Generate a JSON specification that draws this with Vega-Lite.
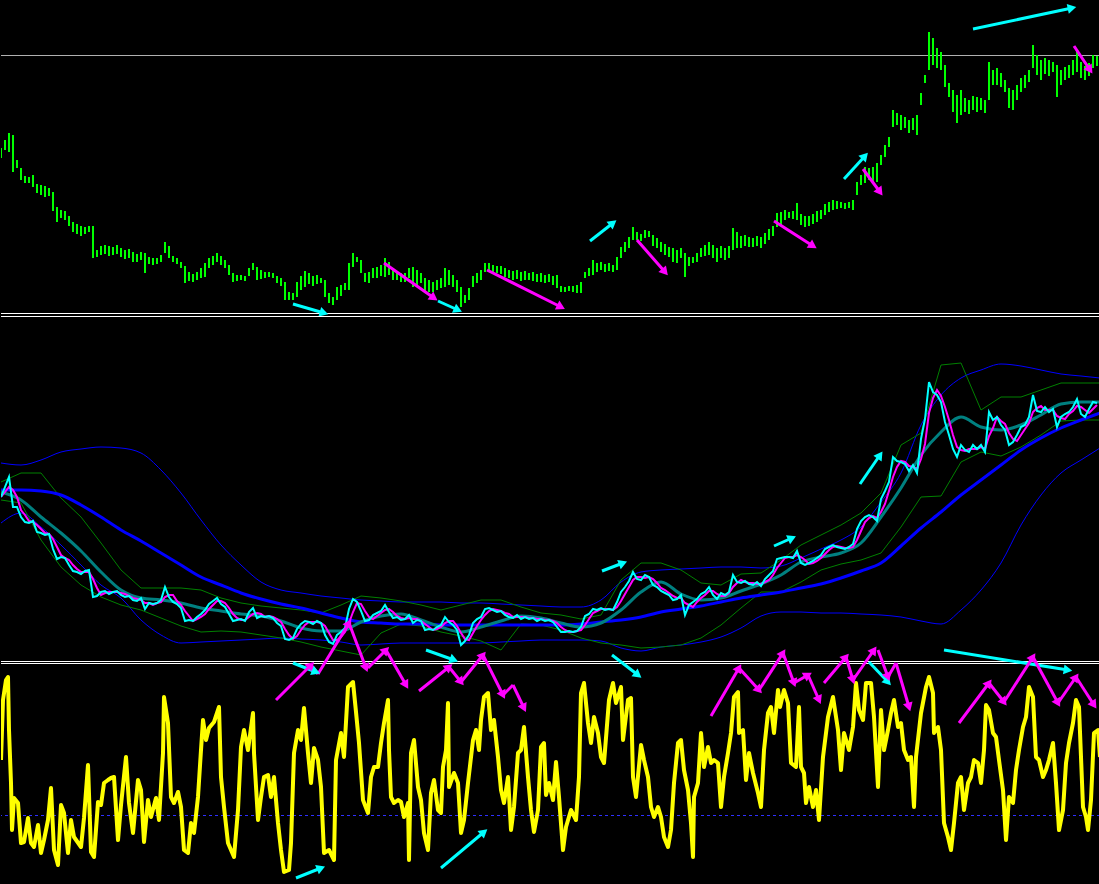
{
"$schema":"https://vega.github.io/schema/vega-lite/v6.json",
"background":"black","padding":0,"spacing":0,"bounds":"flush",
"config":{"view":{"stroke":null},"concat":{"spacing":0}},
"datasets":{
"one":[{"k":1}],
"bars":[
{"t":0,"h":167,"l":157,"c":160,"m":160},{"t":2,"h":175,"l":165,"c":170,"m":165},{"t":4,"h":182,"l":163,"c":180,"m":170},{"t":6,"h":180,"l":143,"c":150,"m":167},{"t":8,"h":155,"l":147,"c":150,"m":160},{"t":10,"h":147,"l":135,"c":140,"m":147},{"t":12,"h":139,"l":132,"c":135,"m":142},{"t":14,"h":138,"l":132,"c":134,"m":136},{"t":16,"h":140,"l":128,"c":136,"m":135},{"t":18,"h":131,"l":122,"c":125,"m":132},
{"t":20,"h":130,"l":120,"c":124,"m":128},{"t":22,"h":129,"l":118,"c":122,"m":124},{"t":24,"h":127,"l":119,"c":123,"m":123},{"t":26,"h":123,"l":104,"c":108,"m":118},{"t":28,"h":108,"l":93,"c":98,"m":110},{"t":30,"h":105,"l":97,"c":100,"m":102},{"t":32,"h":104,"l":95,"c":99,"m":99},{"t":34,"h":99,"l":89,"c":92,"m":97},{"t":36,"h":93,"l":83,"c":86,"m":92},{"t":38,"h":91,"l":81,"c":85,"m":88},
{"t":40,"h":89,"l":79,"c":83,"m":85},{"t":42,"h":88,"l":81,"c":86,"m":85},{"t":44,"h":89,"l":83,"c":87,"m":85},{"t":46,"h":89,"l":57,"c":60,"m":78},{"t":48,"h":65,"l":58,"c":61,"m":69},{"t":50,"h":69,"l":60,"c":65,"m":62},{"t":52,"h":70,"l":61,"c":66,"m":64},{"t":54,"h":69,"l":59,"c":63,"m":65},{"t":56,"h":68,"l":60,"c":65,"m":65},{"t":58,"h":70,"l":61,"c":66,"m":65},
{"t":60,"h":67,"l":58,"c":62,"m":64},{"t":62,"h":65,"l":56,"c":60,"m":63},{"t":64,"h":66,"l":57,"c":61,"m":61},{"t":66,"h":63,"l":53,"c":57,"m":59},{"t":68,"h":61,"l":53,"c":56,"m":58},{"t":70,"h":63,"l":55,"c":59,"m":57},{"t":72,"h":62,"l":42,"c":48,"m":54},{"t":74,"h":58,"l":51,"c":54,"m":54},{"t":76,"h":57,"l":50,"c":53,"m":52},{"t":78,"h":57,"l":51,"c":54,"m":54},
{"t":80,"h":60,"l":53,"c":57,"m":55},{"t":82,"h":73,"l":62,"c":70,"m":60},{"t":84,"h":69,"l":57,"c":60,"m":62},{"t":86,"h":59,"l":53,"c":55,"m":62},{"t":88,"h":57,"l":51,"c":53,"m":56},{"t":90,"h":53,"l":47,"c":49,"m":52},{"t":92,"h":49,"l":32,"c":36,"m":46},{"t":94,"h":43,"l":34,"c":37,"m":41},{"t":96,"h":41,"l":33,"c":36,"m":36},{"t":98,"h":43,"l":35,"c":40,"m":38},
{"t":100,"h":47,"l":37,"c":43,"m":40},{"t":102,"h":52,"l":38,"c":47,"m":43},{"t":104,"h":57,"l":47,"c":53,"m":48},{"t":106,"h":59,"l":50,"c":56,"m":52},{"t":108,"h":62,"l":53,"c":59,"m":56},{"t":110,"h":59,"l":50,"c":53,"m":56},{"t":112,"h":55,"l":47,"c":50,"m":54},{"t":114,"h":50,"l":40,"c":43,"m":49},{"t":116,"h":42,"l":33,"c":36,"m":43},{"t":118,"h":40,"l":34,"c":37,"m":39},
{"t":120,"h":40,"l":35,"c":38,"m":37},{"t":122,"h":39,"l":34,"c":36,"m":37},{"t":124,"h":47,"l":39,"c":45,"m":40},{"t":126,"h":52,"l":45,"c":49,"m":43},{"t":128,"h":48,"l":35,"c":39,"m":44},{"t":130,"h":45,"l":36,"c":41,"m":43},{"t":132,"h":43,"l":37,"c":40,"m":40},{"t":134,"h":43,"l":38,"c":41,"m":41},{"t":136,"h":42,"l":37,"c":39,"m":40},{"t":138,"h":39,"l":32,"c":34,"m":38},
{"t":140,"h":37,"l":29,"c":31,"m":35},{"t":142,"h":33,"l":15,"c":18,"m":28},{"t":144,"h":23,"l":15,"c":17,"m":22},{"t":146,"h":22,"l":15,"c":19,"m":18},{"t":148,"h":33,"l":18,"c":28,"m":21},{"t":150,"h":39,"l":25,"c":33,"m":27},{"t":152,"h":44,"l":28,"c":36,"m":32},{"t":154,"h":42,"l":31,"c":35,"m":35},{"t":156,"h":39,"l":29,"c":33,"m":35},{"t":158,"h":40,"l":31,"c":36,"m":35},
{"t":160,"h":37,"l":32,"c":34,"m":34},{"t":162,"h":35,"l":18,"c":22,"m":31},{"t":164,"h":22,"l":12,"c":15,"m":24},{"t":166,"h":18,"l":10,"c":13,"m":17},{"t":168,"h":28,"l":15,"c":22,"m":17},{"t":170,"h":30,"l":19,"c":25,"m":20},{"t":172,"h":32,"l":25,"c":29,"m":25},{"t":174,"h":52,"l":25,"c":48,"m":34},{"t":176,"h":62,"l":48,"c":58,"m":45},{"t":178,"h":58,"l":53,"c":55,"m":54},
{"t":180,"h":55,"l":42,"c":46,"m":53},{"t":182,"h":42,"l":33,"c":36,"m":46},{"t":184,"h":43,"l":32,"c":37,"m":40},{"t":186,"h":47,"l":37,"c":42,"m":38},{"t":188,"h":48,"l":37,"c":44,"m":41},{"t":190,"h":50,"l":39,"c":46,"m":44},{"t":192,"h":57,"l":38,"c":52,"m":47},{"t":194,"h":53,"l":40,"c":45,"m":48},{"t":196,"h":45,"l":35,"c":39,"m":45},{"t":198,"h":44,"l":35,"c":40,"m":41},
{"t":200,"h":42,"l":33,"c":37,"m":39},{"t":202,"h":42,"l":33,"c":38,"m":38},{"t":204,"h":47,"l":37,"c":42,"m":39},{"t":206,"h":48,"l":28,"c":34,"m":38},{"t":208,"h":45,"l":30,"c":37,"m":38},{"t":210,"h":42,"l":32,"c":36,"m":36},{"t":212,"h":37,"l":22,"c":27,"m":33},{"t":214,"h":35,"l":23,"c":28,"m":30},{"t":216,"h":33,"l":23,"c":27,"m":27},{"t":218,"h":35,"l":25,"c":30,"m":28},
{"t":220,"h":37,"l":27,"c":32,"m":30},{"t":222,"h":47,"l":28,"c":40,"m":34},{"t":224,"h":45,"l":30,"c":35,"m":36},{"t":226,"h":40,"l":28,"c":32,"m":36},{"t":228,"h":35,"l":23,"c":27,"m":31},{"t":230,"h":28,"l":8,"c":12,"m":24},{"t":232,"h":20,"l":12,"c":16,"m":18},{"t":234,"h":27,"l":15,"c":22,"m":17},{"t":236,"h":39,"l":28,"c":34,"m":24},{"t":238,"h":42,"l":32,"c":38,"m":31},
{"t":240,"h":45,"l":35,"c":40,"m":37},{"t":242,"h":52,"l":43,"c":48,"m":42},{"t":244,"h":52,"l":45,"c":49,"m":46},{"t":246,"h":50,"l":43,"c":47,"m":48},{"t":248,"h":49,"l":42,"c":45,"m":47},{"t":250,"h":49,"l":41,"c":46,"m":46},{"t":252,"h":47,"l":38,"c":42,"m":44},{"t":254,"h":45,"l":37,"c":40,"m":43},{"t":256,"h":44,"l":35,"c":39,"m":40},{"t":258,"h":45,"l":36,"c":42,"m":40},
{"t":260,"h":43,"l":34,"c":38,"m":40},{"t":262,"h":44,"l":35,"c":40,"m":40},{"t":264,"h":42,"l":35,"c":38,"m":39},{"t":266,"h":43,"l":34,"c":39,"m":39},{"t":268,"h":41,"l":33,"c":36,"m":38},{"t":270,"h":42,"l":33,"c":38,"m":38},{"t":272,"h":40,"l":32,"c":36,"m":37},{"t":274,"h":41,"l":33,"c":37,"m":37},{"t":276,"h":39,"l":30,"c":35,"m":36},{"t":278,"h":40,"l":27,"c":30,"m":34},
{"t":280,"h":29,"l":23,"c":25,"m":30},{"t":282,"h":28,"l":23,"c":25,"m":27},{"t":284,"h":29,"l":24,"c":26,"m":25},{"t":286,"h":29,"l":23,"c":25,"m":25},{"t":288,"h":30,"l":22,"c":26,"m":26},{"t":290,"h":33,"l":22,"c":30,"m":27},{"t":292,"h":43,"l":37,"c":41,"m":32},{"t":294,"h":47,"l":39,"c":43,"m":38},{"t":296,"h":55,"l":40,"c":48,"m":44},{"t":298,"h":52,"l":43,"c":47,"m":46},
{"t":300,"h":53,"l":45,"c":49,"m":48},{"t":302,"h":51,"l":43,"c":47,"m":48},{"t":304,"h":52,"l":44,"c":48,"m":48},{"t":306,"h":50,"l":43,"c":47,"m":47},{"t":308,"h":58,"l":45,"c":55,"m":50},{"t":310,"h":68,"l":57,"c":65,"m":56},{"t":312,"h":73,"l":63,"c":70,"m":63},{"t":314,"h":78,"l":67,"c":76,"m":70},{"t":316,"h":88,"l":75,"c":85,"m":77},{"t":318,"h":83,"l":75,"c":78,"m":80},
{"t":320,"h":81,"l":74,"c":77,"m":80},{"t":322,"h":85,"l":77,"c":82,"m":79},{"t":324,"h":84,"l":78,"c":80,"m":80},{"t":326,"h":80,"l":69,"c":72,"m":78},{"t":328,"h":77,"l":67,"c":70,"m":74},{"t":330,"h":73,"l":63,"c":66,"m":69},{"t":332,"h":71,"l":60,"c":64,"m":67},{"t":334,"h":68,"l":58,"c":62,"m":64},{"t":336,"h":67,"l":53,"c":57,"m":61},{"t":338,"h":65,"l":52,"c":58,"m":59},
{"t":340,"h":67,"l":57,"c":62,"m":59},{"t":342,"h":62,"l":38,"c":42,"m":54},{"t":344,"h":58,"l":49,"c":52,"m":52},{"t":346,"h":58,"l":52,"c":55,"m":50},{"t":348,"h":62,"l":53,"c":58,"m":55},{"t":350,"h":67,"l":58,"c":63,"m":59},{"t":352,"h":70,"l":59,"c":65,"m":62},{"t":354,"h":73,"l":60,"c":70,"m":66},{"t":356,"h":70,"l":57,"c":62,"m":66},{"t":358,"h":67,"l":53,"c":58,"m":63},
{"t":360,"h":69,"l":57,"c":64,"m":61},{"t":362,"h":67,"l":55,"c":62,"m":61},{"t":364,"h":69,"l":57,"c":65,"m":64},{"t":366,"h":87,"l":65,"c":82,"m":70},{"t":368,"h":83,"l":67,"c":75,"m":74},{"t":370,"h":79,"l":67,"c":74,"m":77},{"t":372,"h":80,"l":69,"c":76,"m":75},{"t":374,"h":78,"l":68,"c":73,"m":74},{"t":376,"h":77,"l":68,"c":72,"m":74},{"t":378,"h":79,"l":69,"c":75,"m":73},
{"t":380,"h":78,"l":67,"c":71,"m":73},{"t":382,"h":82,"l":71,"c":78,"m":75},{"t":384,"h":86,"l":75,"c":82,"m":77},{"t":386,"h":89,"l":79,"c":86,"m":82},{"t":388,"h":102,"l":88,"c":98,"m":89},{"t":390,"h":103,"l":90,"c":99,"m":94},{"t":392,"h":105,"l":95,"c":100,"m":99},{"t":394,"h":103,"l":97,"c":100,"m":100},{"t":396,"h":104,"l":96,"c":99,"m":100},{"t":398,"h":112,"l":95,"c":106,"m":102},
{"t":400,"h":101,"l":90,"c":94,"m":100},{"t":402,"h":99,"l":88,"c":92,"m":97},{"t":404,"h":99,"l":89,"c":94,"m":93},{"t":406,"h":101,"l":91,"c":96,"m":94},{"t":408,"h":104,"l":93,"c":99,"m":96},{"t":410,"h":105,"l":96,"c":102,"m":99},{"t":412,"h":111,"l":100,"c":108,"m":103},{"t":414,"h":113,"l":103,"c":110,"m":107},{"t":416,"h":115,"l":105,"c":112,"m":110},{"t":418,"h":114,"l":106,"c":110,"m":111},
{"t":420,"h":113,"l":107,"c":109,"m":110},{"t":422,"h":112,"l":106,"c":108,"m":109},{"t":424,"h":113,"l":107,"c":110,"m":109},{"t":426,"h":115,"l":105,"c":113,"m":110},{"t":428,"h":133,"l":120,"c":128,"m":117},{"t":430,"h":140,"l":130,"c":136,"m":126},{"t":432,"h":148,"l":132,"c":140,"m":135},{"t":434,"h":147,"l":135,"c":142,"m":139},{"t":436,"h":148,"l":134,"c":140,"m":141},{"t":438,"h":152,"l":133,"c":136,"m":139},
{"t":440,"h":160,"l":150,"c":158,"m":145},{"t":442,"h":170,"l":158,"c":166,"m":153},{"t":444,"h":178,"l":168,"c":175,"m":166},{"t":446,"h":205,"l":188,"c":200,"m":180},{"t":448,"h":202,"l":190,"c":196,"m":190},{"t":450,"h":200,"l":185,"c":195,"m":196},{"t":452,"h":198,"l":187,"c":193,"m":195},{"t":454,"h":195,"l":182,"c":186,"m":191},{"t":456,"h":197,"l":185,"c":192,"m":190},{"t":458,"h":200,"l":180,"c":184,"m":188},
{"t":460,"h":222,"l":210,"c":218,"m":198},{"t":462,"h":240,"l":232,"c":238,"m":213},{"t":464,"h":283,"l":245,"c":275,"m":244},{"t":466,"h":277,"l":250,"c":265,"m":259},{"t":468,"h":267,"l":247,"c":262,"m":267},{"t":470,"h":263,"l":245,"c":255,"m":261},{"t":472,"h":250,"l":228,"c":235,"m":250},{"t":474,"h":232,"l":218,"c":222,"m":237},{"t":476,"h":225,"l":203,"c":208,"m":222},{"t":478,"h":220,"l":192,"c":200,"m":210},
{"t":480,"h":225,"l":200,"c":212,"m":207},{"t":482,"h":217,"l":203,"c":207,"m":206},{"t":484,"h":215,"l":201,"c":205,"m":208},{"t":486,"h":219,"l":205,"c":212,"m":208},{"t":488,"h":218,"l":203,"c":208,"m":208},{"t":490,"h":217,"l":205,"c":212,"m":210},{"t":492,"h":215,"l":202,"c":205,"m":208},{"t":494,"h":253,"l":215,"c":245,"m":221},{"t":496,"h":245,"l":230,"c":237,"m":229},{"t":498,"h":247,"l":230,"c":240,"m":240},
{"t":500,"h":242,"l":228,"c":232,"m":236},{"t":502,"h":235,"l":223,"c":227,"m":233},{"t":504,"h":227,"l":207,"c":212,"m":224},{"t":506,"h":225,"l":205,"c":215,"m":218},{"t":508,"h":230,"l":215,"c":222,"m":216},{"t":510,"h":237,"l":223,"c":230,"m":222},{"t":512,"h":240,"l":227,"c":232,"m":228},{"t":514,"h":245,"l":233,"c":240,"m":234},{"t":516,"h":270,"l":247,"c":262,"m":245},{"t":518,"h":260,"l":240,"c":246,"m":249},
{"t":520,"h":255,"l":235,"c":245,"m":251},{"t":522,"h":257,"l":241,"c":250,"m":247},{"t":524,"h":255,"l":239,"c":245,"m":247},{"t":526,"h":253,"l":243,"c":248,"m":247},{"t":528,"h":250,"l":218,"c":230,"m":241},{"t":530,"h":245,"l":230,"c":240,"m":239},{"t":532,"h":248,"l":235,"c":243,"m":238},{"t":534,"h":250,"l":237,"c":245,"m":243},{"t":536,"h":255,"l":240,"c":250,"m":246},{"t":538,"h":265,"l":243,"c":258,"m":251},
{"t":540,"h":253,"l":237,"c":243,"m":250},{"t":542,"h":249,"l":235,"c":240,"m":247},{"t":544,"h":252,"l":239,"c":248,"m":244},{"t":546,"h":260,"l":247,"c":255,"m":248},{"t":548,"h":259,"l":249,"c":254,"m":252}
],
"ind":[
{"t":0,"ma":167,"teal":165,"bu":194,"bl":134,"gu":175,"gl":157},{"t":10,"ma":167,"teal":157,"bu":192,"bl":144,"gu":184,"gl":154},{"t":20,"ma":166,"teal":140,"bu":197,"bl":130,"gu":184,"gl":117},{"t":30,"ma":162,"teal":124,"bu":205,"bl":112,"gu":159,"gl":90},{"t":40,"ma":152,"teal":106,"bu":208,"bl":92,"gu":140,"gl":72},{"t":50,"ma":140,"teal":85,"bu":210,"bl":72,"gu":114,"gl":60},{"t":60,"ma":127,"teal":67,"bu":209,"bl":59,"gu":87,"gl":52},{"t":70,"ma":116,"teal":59,"bu":204,"bl":37,"gu":69,"gl":47},{"t":80,"ma":104,"teal":57,"bu":187,"bl":22,"gu":69,"gl":39},{"t":90,"ma":92,"teal":54,"bu":164,"bl":14,"gu":69,"gl":31},
{"t":100,"ma":80,"teal":49,"bu":137,"bl":15,"gu":67,"gl":25},{"t":110,"ma":72,"teal":46,"bu":112,"bl":16,"gu":59,"gl":26},{"t":120,"ma":64,"teal":43,"bu":92,"bl":17,"gu":54,"gl":25},{"t":130,"ma":58,"teal":41,"bu":75,"bl":18,"gu":51,"gl":22},{"t":140,"ma":53,"teal":36,"bu":67,"bl":19,"gu":49,"gl":19},{"t":150,"ma":49,"teal":29,"bu":64,"bl":18,"gu":47,"gl":15},{"t":160,"ma":44,"teal":26,"bu":61,"bl":17,"gu":44,"gl":10},{"t":170,"ma":39,"teal":26,"bu":59,"bl":15,"gu":52,"gl":6},{"t":180,"ma":35,"teal":35,"bu":57,"bl":12,"gu":61,"gl":2},{"t":190,"ma":34,"teal":41,"bu":56,"bl":13,"gu":59,"gl":24},
{"t":200,"ma":33,"teal":43,"bu":55,"bl":14,"gu":56,"gl":33},{"t":210,"ma":33,"teal":37,"bu":55,"bl":14,"gu":52,"gl":31},{"t":220,"ma":32,"teal":30,"bu":55,"bl":14,"gu":47,"gl":25},{"t":230,"ma":32,"teal":25,"bu":54,"bl":14,"gu":52,"gl":21},{"t":240,"ma":32,"teal":30,"bu":54,"bl":14,"gu":57,"gl":16},{"t":250,"ma":32,"teal":36,"bu":53,"bl":15,"gu":57,"gl":7},{"t":260,"ma":32,"teal":41,"bu":52,"bl":16,"gu":50,"gl":33},{"t":270,"ma":32,"teal":39,"bu":51,"bl":17,"gu":44,"gl":32},{"t":280,"ma":32,"teal":34,"bu":50,"bl":17,"gu":42,"gl":27},{"t":290,"ma":33,"teal":30,"bu":50,"bl":17,"gu":38,"gl":19},
{"t":300,"ma":35,"teal":34,"bu":57,"bl":16,"gu":42,"gl":14},{"t":310,"ma":37,"teal":47,"bu":75,"bl":9,"gu":77,"gl":12},{"t":320,"ma":40,"teal":65,"bu":85,"bl":6,"gu":94,"gl":9},{"t":330,"ma":45,"teal":75,"bu":87,"bl":10,"gu":94,"gl":10},{"t":340,"ma":48,"teal":63,"bu":88,"bl":12,"gu":87,"gl":12},{"t":350,"ma":51,"teal":57,"bu":89,"bl":15,"gu":74,"gl":19},{"t":360,"ma":55,"teal":59,"bu":90,"bl":20,"gu":72,"gl":32},{"t":370,"ma":59,"teal":66,"bu":90,"bl":29,"gu":83,"gl":49},{"t":380,"ma":62,"teal":73,"bu":89,"bl":41,"gu":84,"gl":65},{"t":390,"ma":65,"teal":82,"bu":91,"bl":45,"gu":97,"gl":65},
{"t":400,"ma":69,"teal":95,"bu":99,"bl":45,"gu":112,"gl":75},{"t":410,"ma":73,"teal":100,"bu":108,"bl":44,"gu":122,"gl":87},{"t":420,"ma":79,"teal":104,"bu":117,"bl":44,"gu":132,"gl":93},{"t":430,"ma":86,"teal":114,"bu":130,"bl":43,"gu":144,"gl":97},{"t":440,"ma":94,"teal":140,"bu":155,"bl":42,"gu":164,"gl":104},{"t":450,"ma":111,"teal":169,"bu":184,"bl":40,"gu":212,"gl":130},{"t":460,"ma":129,"teal":202,"bu":232,"bl":36,"gu":224,"gl":160},{"t":470,"ma":145,"teal":225,"bu":262,"bl":33,"gu":292,"gl":161},{"t":480,"ma":162,"teal":240,"bu":279,"bl":47,"gu":294,"gl":195},{"t":490,"ma":177,"teal":230,"bu":287,"bl":67,"gu":247,"gl":205},
{"t":500,"ma":192,"teal":227,"bu":293,"bl":94,"gu":260,"gl":201},{"t":510,"ma":207,"teal":232,"bu":291,"bl":132,"gu":260,"gl":210},{"t":520,"ma":219,"teal":242,"bu":287,"bl":162,"gu":267,"gl":222},{"t":530,"ma":229,"teal":253,"bu":283,"bl":184,"gu":274,"gl":236},{"t":540,"ma":237,"teal":255,"bu":281,"bl":197,"gu":274,"gl":237},{"t":549.5,"ma":244,"teal":255,"bu":279,"bl":209,"gu":274,"gl":237}
],
"osc":[
{"t":0,"v":124},{"t":1,"v":184},{"t":2.5,"v":204},{"t":3.5,"v":207},{"t":4,"v":154},{"t":5,"v":101},{"t":5.5,"v":54},{"t":6.5,"v":86},{"t":8.5,"v":81},{"t":10,"v":41},{"t":11.5,"v":42},{"t":13.5,"v":66},{"t":15,"v":41},{"t":16.5,"v":37},{"t":18.5,"v":59},{"t":20,"v":31},{"t":21.5,"v":44},{"t":23.5,"v":64},{"t":25,"v":96},{"t":26.5,"v":34},{"t":28.5,"v":19},{"t":30,"v":79},{"t":31.5,"v":71},{"t":33.5,"v":31},{"t":35,"v":64},{"t":36.5,"v":47},{"t":40,"v":37},{"t":41.5,"v":66},{"t":43.5,"v":119},{"t":45,"v":32},{"t":46.5,"v":27},{"t":48.5,"v":82},{"t":50,"v":79},{"t":51.5,"v":101},{"t":53.5,"v":104},{"t":55,"v":106},{"t":56.5,"v":107},{"t":58.5,"v":44},{"t":60,"v":79},{"t":62.5,"v":127},{"t":64,"v":81},{"t":66,"v":51},{"t":68.5,"v":104},{"t":70,"v":94},{"t":71.5,"v":42},{"t":73.5,"v":84},{"t":75,"v":67},{"t":77.5,"v":86},{"t":79,"v":64},{"t":81,"v":131},{"t":81.5,"v":187},{"t":83.5,"v":161},{"t":85,"v":87},{"t":86.5,"v":81},{"t":88.5,"v":92},{"t":90,"v":77},{"t":91.5,"v":34},{"t":93.5,"v":31},{"t":95,"v":61},{"t":96.5,"v":51},{"t":98.5,"v":87},{"t":100,"v":134},{"t":101,"v":164},{"t":102.5,"v":144},{"t":104,"v":156},{"t":106.5,"v":162},{"t":109,"v":177},{"t":110,"v":107},{"t":111.5,"v":77},{"t":113.5,"v":41},{"t":116.5,"v":27},{"t":118.5,"v":74},{"t":120,"v":137},{"t":121.5,"v":154},{"t":123.5,"v":134},{"t":126,"v":171},{"t":126.5,"v":131},{"t":128.5,"v":64},{"t":130,"v":87},{"t":131.5,"v":107},{"t":133.5,"v":109},{"t":135,"v":87},{"t":136.5,"v":107},{"t":138.5,"v":61},{"t":140,"v":34},{"t":141.5,"v":12},{"t":144,"v":14},{"t":145,"v":41},{"t":146.5,"v":131},{"t":148.5,"v":154},{"t":150,"v":144},{"t":151.5,"v":176},{"t":153.5,"v":131},{"t":155,"v":101},{"t":156.5,"v":136},{"t":158.5,"v":124},{"t":160,"v":97},{"t":161.5,"v":31},{"t":164,"v":34},{"t":166.5,"v":24},{"t":167.5,"v":124},{"t":170,"v":151},{"t":171.5,"v":127},{"t":173.5,"v":197},{"t":176,"v":202},{"t":177.5,"v":172},{"t":179,"v":141},{"t":181,"v":84},{"t":183.5,"v":71},{"t":185,"v":107},
{"t":186.5,"v":117},{"t":188.5,"v":117},{"t":190,"v":141},{"t":191.5,"v":161},{"t":193.5,"v":184},{"t":194,"v":134},{"t":195,"v":87},{"t":196.5,"v":81},{"t":198.5,"v":84},{"t":200,"v":82},{"t":201.5,"v":67},{"t":203.5,"v":81},{"t":204,"v":24},{"t":205,"v":131},{"t":206.5,"v":144},{"t":208.5,"v":97},{"t":210,"v":84},{"t":211.5,"v":51},{"t":213.5,"v":34},{"t":215,"v":91},{"t":216.5,"v":104},{"t":218.5,"v":74},{"t":220,"v":71},{"t":221,"v":117},{"t":222.5,"v":134},{"t":223.5,"v":181},{"t":224,"v":97},{"t":226.5,"v":111},{"t":228.5,"v":101},{"t":230,"v":51},{"t":231.5,"v":64},{"t":233.5,"v":101},{"t":236,"v":144},{"t":237.5,"v":154},{"t":239,"v":134},{"t":240,"v":164},{"t":241.5,"v":187},{"t":243.5,"v":191},{"t":245,"v":154},{"t":246.5,"v":164},{"t":248.5,"v":127},{"t":250,"v":94},{"t":251.5,"v":81},{"t":253.5,"v":107},{"t":255,"v":54},{"t":256.5,"v":77},{"t":258.5,"v":131},{"t":260,"v":134},{"t":261.5,"v":157},{"t":263.5,"v":107},{"t":265,"v":74},{"t":266.5,"v":52},{"t":268.5,"v":74},{"t":270,"v":137},{"t":271.5,"v":141},{"t":272.5,"v":89},{"t":274,"v":101},{"t":276,"v":84},{"t":277.5,"v":122},{"t":279,"v":87},{"t":281,"v":34},{"t":282.5,"v":57},{"t":285,"v":74},{"t":287.5,"v":64},{"t":289,"v":107},{"t":290,"v":191},{"t":291.5,"v":201},{"t":293.5,"v":161},{"t":295,"v":141},{"t":296.5,"v":167},{"t":298.5,"v":151},{"t":300,"v":127},{"t":301.5,"v":121},{"t":304,"v":184},{"t":306,"v":201},{"t":307.5,"v":181},{"t":310,"v":197},{"t":311,"v":144},{"t":313.5,"v":184},{"t":315,"v":186},{"t":316,"v":107},{"t":317.5,"v":87},{"t":320,"v":139},{"t":321.5,"v":124},{"t":323.5,"v":107},{"t":325,"v":77},{"t":326.5,"v":67},{"t":328.5,"v":77},{"t":330,"v":67},{"t":331.5,"v":47},{"t":333.5,"v":37},{"t":335,"v":54},{"t":336.5,"v":101},{"t":338.5,"v":141},{"t":340,"v":144},{"t":341.5,"v":114},{"t":343.5,"v":94},{"t":345,"v":61},{"t":346,"v":27},{"t":346.5,"v":87},{"t":348.5,"v":101},{"t":350,"v":151},{"t":351.5,"v":117},{"t":353.5,"v":137},{"t":355,"v":121},{"t":356.5,"v":124},{"t":358.5,"v":121},{"t":360,"v":77},{"t":361.5,"v":107},{"t":363.5,"v":131},{"t":365,"v":151},
{"t":366.5,"v":187},{"t":368.5,"v":192},{"t":369,"v":151},{"t":371,"v":154},{"t":372.5,"v":104},{"t":374,"v":131},{"t":376,"v":111},{"t":378.5,"v":91},{"t":380,"v":77},{"t":381.5,"v":134},{"t":383.5,"v":171},{"t":385,"v":177},{"t":386.5,"v":151},{"t":388.5,"v":194},{"t":389.5,"v":177},{"t":391.5,"v":194},{"t":393.5,"v":181},{"t":395,"v":121},{"t":397.5,"v":117},{"t":399,"v":177},{"t":400,"v":117},{"t":401.5,"v":111},{"t":402.5,"v":81},{"t":404,"v":97},{"t":406,"v":77},{"t":407.5,"v":94},{"t":409,"v":64},{"t":411,"v":127},{"t":413.5,"v":167},{"t":416,"v":187},{"t":418.5,"v":154},{"t":420,"v":114},{"t":421.5,"v":151},{"t":424,"v":134},{"t":426,"v":157},{"t":427.5,"v":201},{"t":429,"v":174},{"t":431,"v":164},{"t":432.5,"v":201},{"t":435,"v":201},{"t":436.5,"v":167},{"t":438.5,"v":97},{"t":440,"v":174},{"t":441.5,"v":134},{"t":443.5,"v":154},{"t":445,"v":171},{"t":446.5,"v":184},{"t":448.5,"v":157},{"t":450,"v":161},{"t":451.5,"v":134},{"t":453.5,"v":124},{"t":455,"v":127},{"t":456.5,"v":77},{"t":457.5,"v":127},{"t":460,"v":171},{"t":462.5,"v":197},{"t":464,"v":207},{"t":466,"v":191},{"t":466.5,"v":151},{"t":468.5,"v":157},{"t":470,"v":134},{"t":471.5,"v":61},{"t":473.5,"v":47},{"t":475,"v":34},{"t":476.5,"v":61},{"t":478.5,"v":101},{"t":480,"v":107},{"t":481.5,"v":74},{"t":483.5,"v":101},{"t":485,"v":107},{"t":486.5,"v":124},{"t":488.5,"v":121},{"t":490,"v":101},{"t":491.5,"v":134},{"t":492.5,"v":179},{"t":494,"v":174},{"t":496,"v":151},{"t":497.5,"v":147},{"t":499,"v":124},{"t":501,"v":94},{"t":502.5,"v":44},{"t":504,"v":87},{"t":506,"v":81},{"t":507.5,"v":114},{"t":509,"v":134},{"t":511,"v":157},{"t":512.5,"v":167},{"t":514,"v":197},{"t":516,"v":187},{"t":517.5,"v":127},{"t":519,"v":124},{"t":521,"v":107},{"t":522.5,"v":114},{"t":524,"v":124},{"t":526,"v":141},{"t":527.5,"v":101},{"t":529,"v":54},{"t":531,"v":74},{"t":532.5,"v":121},{"t":534,"v":141},{"t":536,"v":161},{"t":537.5,"v":184},{"t":539,"v":177},{"t":541,"v":77},{"t":542.5,"v":67},{"t":543.5,"v":54},{"t":545,"v":84},{"t":546.5,"v":151},{"t":548.5,"v":154},{"t":549.5,"v":127}
],
"arrT":[
{"t1":146,"p1":11,"t2":161.5,"p2":2,"a":106,"col":"#00ffff"},
{"t1":191.5,"p1":52,"t2":216.5,"p2":17,"a":125,"col":"#ff00ff"},
{"t1":218.5,"p1":14,"t2":228.5,"p2":5,"a":114,"col":"#00ffff"},
{"t1":243,"p1":45,"t2":280,"p2":8,"a":117,"col":"#ff00ff"},
{"t1":294.5,"p1":74,"t2":306,"p2":92,"a":52,"col":"#00ffff"},
{"t1":318,"p1":75,"t2":332,"p2":43,"a":139,"col":"#ff00ff"},
{"t1":386.5,"p1":94,"t2":406,"p2":69,"a":123,"col":"#ff00ff"},
{"t1":421.5,"p1":136,"t2":432,"p2":159,"a":42,"col":"#00ffff"},
{"t1":431,"p1":146,"t2":439.5,"p2":123,"a":144,"col":"#ff00ff"},
{"t1":486,"p1":286,"t2":535.5,"p2":307,"a":78,"col":"#00ffff"},
{"t1":536.5,"p1":269,"t2":544.5,"p2":245,"a":146,"col":"#ff00ff"}
],
"arrM":[
{"t1":300.5,"p1":86,"t2":311,"p2":94,"a":69,"col":"#00ffff"},
{"t1":386.5,"p1":111,"t2":395.5,"p2":119,"a":66,"col":"#00ffff"},
{"t1":429.5,"p1":173,"t2":439.5,"p2":202,"a":35,"col":"#00ffff"}
],
"arrB":[
{"t1":146,"v1":221,"t2":157.5,"v2":212,"a":111,"hd":1,"col":"#00ffff"},
{"t1":212.5,"v1":234,"t2":226.5,"v2":224,"a":110,"hd":1,"col":"#00ffff"},
{"t1":305.5,"v1":229,"t2":318.5,"v2":209,"a":128,"hd":1,"col":"#00ffff"},
{"t1":434,"v1":222,"t2":443.5,"v2":202,"a":137,"hd":1,"col":"#00ffff"},
{"t1":471.5,"v1":234,"t2":533.5,"v2":214,"a":99,"hd":1,"col":"#00ffff"},
{"t1":147.5,"v1":6,"t2":160,"v2":16,"a":68,"hd":1,"col":"#00ffff"},
{"t1":220,"v1":16,"t2":241.5,"v2":52,"a":50,"hd":1,"col":"#00ffff"},
{"t1":137.5,"v1":184,"t2":155,"v2":219,"a":45,"hd":1,"col":"#ff00ff"},
{"t1":155,"v1":219,"t2":158.5,"v2":210,"a":0,"hd":0,"col":"#ff00ff"},
{"t1":158.5,"v1":210,"t2":174,"v2":261,"a":31,"hd":1,"col":"#ff00ff"},
{"t1":174,"v1":261,"t2":182.5,"v2":216,"a":159,"hd":1,"col":"#ff00ff"},
{"t1":183.5,"v1":216,"t2":192.5,"v2":234,"a":45,"hd":1,"col":"#ff00ff"},
{"t1":192.5,"v1":234,"t2":202.5,"v2":199,"a":150,"hd":1,"col":"#ff00ff"},
{"t1":209,"v1":193,"t2":224,"v2":217,"a":51,"hd":1,"col":"#ff00ff"},
{"t1":224,"v1":217,"t2":230,"v2":202,"a":141,"hd":1,"col":"#ff00ff"},
{"t1":230,"v1":202,"t2":241,"v2":229,"a":39,"hd":1,"col":"#ff00ff"},
{"t1":241,"v1":229,"t2":251,"v2":189,"a":153,"hd":1,"col":"#ff00ff"},
{"t1":251,"v1":189,"t2":256,"v2":199,"a":0,"hd":0,"col":"#ff00ff"},
{"t1":256,"v1":199,"t2":261.5,"v2":176,"a":154,"hd":1,"col":"#ff00ff"},
{"t1":355,"v1":168,"t2":369,"v2":216,"a":30,"hd":1,"col":"#ff00ff"},
{"t1":369,"v1":216,"t2":379,"v2":194,"a":138,"hd":1,"col":"#ff00ff"},
{"t1":379,"v1":194,"t2":391,"v2":231,"a":33,"hd":1,"col":"#ff00ff"},
{"t1":391,"v1":231,"t2":396.5,"v2":201,"a":160,"hd":1,"col":"#ff00ff"},
{"t1":396.5,"v1":201,"t2":403.5,"v2":209,"a":60,"hd":1,"col":"#ff00ff"},
{"t1":403.5,"v1":209,"t2":409,"v2":184,"a":156,"hd":1,"col":"#ff00ff"},
{"t1":411.5,"v1":201,"t2":422.5,"v2":227,"a":40,"hd":1,"col":"#ff00ff"},
{"t1":422.5,"v1":227,"t2":426,"v2":204,"a":163,"hd":1,"col":"#ff00ff"},
{"t1":426,"v1":204,"t2":436.5,"v2":234,"a":35,"hd":1,"col":"#ff00ff"},
{"t1":438.5,"v1":234,"t2":443.5,"v2":207,"a":160,"hd":1,"col":"#ff00ff"},
{"t1":443.5,"v1":207,"t2":447.5,"v2":221,"a":0,"hd":0,"col":"#ff00ff"},
{"t1":447.5,"v1":221,"t2":454,"v2":177,"a":163,"hd":1,"col":"#ff00ff"},
{"t1":479,"v1":161,"t2":494,"v2":201,"a":37,"hd":1,"col":"#ff00ff"},
{"t1":494,"v1":201,"t2":501.5,"v2":182,"a":142,"hd":1,"col":"#ff00ff"},
{"t1":501.5,"v1":182,"t2":516,"v2":227,"a":33,"hd":1,"col":"#ff00ff"},
{"t1":516,"v1":227,"t2":528.5,"v2":181,"a":151,"hd":1,"col":"#ff00ff"},
{"t1":528.5,"v1":181,"t2":537.5,"v2":207,"a":35,"hd":1,"col":"#ff00ff"},
{"t1":537.5,"v1":207,"t2":546.5,"v2":179,"a":146,"hd":1,"col":"#ff00ff"}
]
},
"vconcat":[
{"width":1099,"height":315,
 "layer":[
  {"data":{"name":"one"},"mark":{"type":"rule","color":"#b0b0b0","strokeWidth":1},"encoding":{"y":{"datum":259.5,"type":"quantitative","scale":{"domain":[0,315],"nice":false,"zero":false},"axis":null}}},
  {"data":{"name":"bars"},"mark":{"type":"rule","color":"#00ff00","strokeWidth":2,"clip":true},
   "encoding":{"x":{"field":"t","type":"quantitative","scale":{"domain":[0,549.5],"nice":false,"zero":false},"axis":null},
    "y":{"field":"h","type":"quantitative","scale":{"domain":[0,315],"nice":false,"zero":false},"axis":null},"y2":{"field":"l"}}},
  {"data":{"name":"one"},"mark":{"type":"rule","color":"white","strokeWidth":1},"encoding":{"y":{"datum":1.5,"type":"quantitative","scale":{"domain":[0,315],"nice":false,"zero":false},"axis":null}}},
  {"data":{"name":"arrT"},"mark":{"type":"rule","strokeWidth":3},
   "encoding":{"x":{"field":"t1","type":"quantitative","scale":{"domain":[0,549.5],"nice":false,"zero":false},"axis":null},"x2":{"field":"t2"},
    "y":{"field":"p1","type":"quantitative","scale":{"domain":[0,315],"nice":false,"zero":false},"axis":null},"y2":{"field":"p2"},
    "color":{"field":"col","type":"nominal","scale":null}}},
  {"data":{"name":"arrT"},"mark":{"type":"point","shape":"triangle-up","filled":true,"opacity":1,"size":100,"strokeWidth":0},
   "encoding":{"x":{"field":"t2","type":"quantitative","scale":{"domain":[0,549.5],"nice":false,"zero":false},"axis":null},
    "y":{"field":"p2","type":"quantitative","scale":{"domain":[0,315],"nice":false,"zero":false},"axis":null},
    "angle":{"field":"a","type":"quantitative","scale":null},
    "color":{"field":"col","type":"nominal","scale":null}}}
 ]},
{"width":1099,"height":347,
 "layer":[
  {"data":{"name":"one"},"mark":{"type":"rule","color":"white","strokeWidth":1},"encoding":{"y":{"datum":340.5,"type":"quantitative","scale":{"domain":[-5,342],"nice":false,"zero":false},"axis":null}}},
  {"data":{"name":"one"},"mark":{"type":"rule","color":"white","strokeWidth":1},"encoding":{"y":{"datum":-4.5,"type":"quantitative","scale":{"domain":[-5,342],"nice":false,"zero":false},"axis":null}}},
  {"data":{"name":"ind"},"mark":{"type":"line","color":"#0000ff","strokeWidth":1,"interpolate":"monotone","clip":true},
   "encoding":{"x":{"field":"t","type":"quantitative","scale":{"domain":[0,549.5],"nice":false,"zero":false},"axis":null},"y":{"field":"bu","type":"quantitative","scale":{"domain":[-5,342],"nice":false,"zero":false},"axis":null}}},
  {"data":{"name":"ind"},"mark":{"type":"line","color":"#0000ff","strokeWidth":1,"interpolate":"monotone","clip":true},
   "encoding":{"x":{"field":"t","type":"quantitative","scale":{"domain":[0,549.5],"nice":false,"zero":false},"axis":null},"y":{"field":"bl","type":"quantitative","scale":{"domain":[-5,342],"nice":false,"zero":false},"axis":null}}},
  {"data":{"name":"ind"},"mark":{"type":"line","color":"#008000","strokeWidth":1,"clip":true},
   "encoding":{"x":{"field":"t","type":"quantitative","scale":{"domain":[0,549.5],"nice":false,"zero":false},"axis":null},"y":{"field":"gu","type":"quantitative","scale":{"domain":[-5,342],"nice":false,"zero":false},"axis":null}}},
  {"data":{"name":"ind"},"mark":{"type":"line","color":"#008000","strokeWidth":1,"clip":true},
   "encoding":{"x":{"field":"t","type":"quantitative","scale":{"domain":[0,549.5],"nice":false,"zero":false},"axis":null},"y":{"field":"gl","type":"quantitative","scale":{"domain":[-5,342],"nice":false,"zero":false},"axis":null}}},
  {"data":{"name":"ind"},"mark":{"type":"line","color":"#0000ff","strokeWidth":3,"interpolate":"monotone","clip":true},
   "encoding":{"x":{"field":"t","type":"quantitative","scale":{"domain":[0,549.5],"nice":false,"zero":false},"axis":null},"y":{"field":"ma","type":"quantitative","scale":{"domain":[-5,342],"nice":false,"zero":false},"axis":null}}},
  {"data":{"name":"ind"},"mark":{"type":"line","color":"#008080","strokeWidth":3,"interpolate":"monotone","clip":true},
   "encoding":{"x":{"field":"t","type":"quantitative","scale":{"domain":[0,549.5],"nice":false,"zero":false},"axis":null},"y":{"field":"teal","type":"quantitative","scale":{"domain":[-5,342],"nice":false,"zero":false},"axis":null}}},
  {"data":{"name":"bars"},"mark":{"type":"line","color":"#ff00ff","strokeWidth":2,"clip":true},
   "encoding":{"x":{"field":"t","type":"quantitative","scale":{"domain":[0,549.5],"nice":false,"zero":false},"axis":null},"y":{"field":"m","type":"quantitative","scale":{"domain":[-5,342],"nice":false,"zero":false},"axis":null}}},
  {"data":{"name":"bars"},"mark":{"type":"line","color":"#00ffff","strokeWidth":2,"clip":true},
   "encoding":{"x":{"field":"t","type":"quantitative","scale":{"domain":[0,549.5],"nice":false,"zero":false},"axis":null},"y":{"field":"c","type":"quantitative","scale":{"domain":[-5,342],"nice":false,"zero":false},"axis":null}}},
  {"data":{"name":"arrM"},"mark":{"type":"rule","strokeWidth":3},
   "encoding":{"x":{"field":"t1","type":"quantitative","scale":{"domain":[0,549.5],"nice":false,"zero":false},"axis":null},"x2":{"field":"t2"},
    "y":{"field":"p1","type":"quantitative","scale":{"domain":[-5,342],"nice":false,"zero":false},"axis":null},"y2":{"field":"p2"},
    "color":{"field":"col","type":"nominal","scale":null}}},
  {"data":{"name":"arrM"},"mark":{"type":"point","shape":"triangle-up","filled":true,"opacity":1,"size":100,"strokeWidth":0},
   "encoding":{"x":{"field":"t2","type":"quantitative","scale":{"domain":[0,549.5],"nice":false,"zero":false},"axis":null},
    "y":{"field":"p2","type":"quantitative","scale":{"domain":[-5,342],"nice":false,"zero":false},"axis":null},
    "angle":{"field":"a","type":"quantitative","scale":null},
    "color":{"field":"col","type":"nominal","scale":null}}}
 ]},
{"width":1099,"height":222,
 "layer":[
  {"data":{"name":"one"},"mark":{"type":"rule","color":"white","strokeWidth":1},"encoding":{"y":{"datum":220.5,"type":"quantitative","scale":{"domain":[0,222],"nice":false,"zero":false},"axis":null}}},
  {"data":{"name":"one"},"mark":{"type":"rule","color":"#3030ff","strokeWidth":1,"strokeDash":[3,3]},"encoding":{"y":{"datum":68.5,"type":"quantitative","scale":{"domain":[0,222],"nice":false,"zero":false},"axis":null}}},
  {"data":{"name":"osc"},"mark":{"type":"line","color":"#ffff00","strokeWidth":4,"strokeJoin":"round","clip":true},
   "encoding":{"x":{"field":"t","type":"quantitative","scale":{"domain":[0,549.5],"nice":false,"zero":false},"axis":null},"y":{"field":"v","type":"quantitative","scale":{"domain":[0,222],"nice":false,"zero":false},"axis":null}}},
  {"data":{"name":"arrB"},"mark":{"type":"rule","strokeWidth":3},
   "encoding":{"x":{"field":"t1","type":"quantitative","scale":{"domain":[0,549.5],"nice":false,"zero":false},"axis":null},"x2":{"field":"t2"},
    "y":{"field":"v1","type":"quantitative","scale":{"domain":[0,222],"nice":false,"zero":false},"axis":null},"y2":{"field":"v2"},
    "color":{"field":"col","type":"nominal","scale":null}}},
  {"data":{"name":"arrB"},"transform":[{"filter":"datum.hd == 1"}],"mark":{"type":"point","shape":"triangle-up","filled":true,"opacity":1,"size":100,"strokeWidth":0},
   "encoding":{"x":{"field":"t2","type":"quantitative","scale":{"domain":[0,549.5],"nice":false,"zero":false},"axis":null},
    "y":{"field":"v2","type":"quantitative","scale":{"domain":[0,222],"nice":false,"zero":false},"axis":null},
    "angle":{"field":"a","type":"quantitative","scale":null},
    "color":{"field":"col","type":"nominal","scale":null}}}
 ]}
]
}
